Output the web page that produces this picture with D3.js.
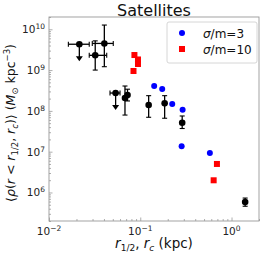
<!DOCTYPE html>
<html><head><meta charset="utf-8">
<script src="https://cdn.jsdelivr.net/npm/d3@7"></script>
<style>body{margin:0;background:#fff}svg{display:block}text{font-family:"DejaVu Sans",sans-serif}</style>
</head><body><svg id="c" width="263" height="255"></svg>
<script>
// black observed points: x, y, x error range, y error range, upper-limit flag
const obsX    = [0.0215, 0.0321, 0.0404, 0.0537, 0.068, 0.0725, 0.1236, 0.185, 0.288, 1.41];
const obsY    = [4.3e9, 2.3e9, 4.5e9, 2.74e8, 2.07e8, 2.45e8, 1.39e8, 1.53e8, 5.1e7, 5.85e5];
const obsXlo  = [0.0163, 0.0276, 0.0298, 0.0466, null, null, null, null, null, null];
const obsXhi  = [0.0276, 0.0429, 0.0506, 0.060, null, null, null, null, null, null];
const obsYlo  = [null, 1.0e9, 1.21e9, null, 7.9e7, 1.75e8, 6.97e7, 6.6e7, 3.7e7, 4.6e5];
const obsYhi  = [null, 5.2e9, 1.27e10, null, 4.07e8, 3.4e8, 2.36e8, 2.36e8, 7.5e7, 7.3e5];
const obsUL   = [true, false, false, true, false, false, false, false, false, false];
// sigma/m = 3 (blue)
const s3X = [0.142, 0.174, 0.224, 0.291, 0.284, 0.579];
const s3Y = [4.07e8, 3.44e8, 1.47e8, 1.07e8, 1.36e7, 9.3e6];
// sigma/m = 10 (red)
const s10X = [0.0863, 0.0944, 0.0944, 0.0843, 0.692, 0.637];
const s10Y = [2.34e9, 1.82e9, 1.41e9, 9.5e8, 5.0e6, 1.99e6];
const xTicks = [0.01, 0.1, 1];
const xTickExp = ["−2", "−1", "0"];
const yTicks = [1e6, 1e7, 1e8, 1e9, 1e10];
const yTickExp = ["6", "7", "8", "9", "10"];
const legendLabels = ["σ/m=3", "σ/m=10"];

const L = 49, R = 259, T = 17, B = 221;
const svg = d3.select("#c");
const x = d3.scaleLog().domain([0.01, 2]).range([L, R]);
const y = d3.scaleLog().domain([2e5, 2e10]).range([B, T]);
const axCol = "#999";

// minor ticks
const xMinor = [];
for (let d = 0.01; d < 2; d *= 10) for (let k = 2; k <= 9; k++) if (d * k <= 2) xMinor.push(d * k);
const yMinor = [];
for (let d = 1e5; d < 2e10; d *= 10) for (let k = 2; k <= 9; k++) if (d * k >= 2e5 && d * k <= 2e10) yMinor.push(d * k);

const g = svg.append("g");
const xAxis = d3.axisBottom(x).tickValues(xTicks).tickSizeInner(-3.5).tickSizeOuter(0).tickFormat("");
const yAxis = d3.axisLeft(y).tickValues(yTicks).tickSizeInner(-3.5).tickSizeOuter(0).tickFormat("");
const gx = g.append("g").attr("transform", `translate(0,${B})`).call(xAxis);
const gxm = g.append("g").attr("transform", `translate(0,${B})`).call(d3.axisBottom(x).tickValues(xMinor).tickSizeInner(-2).tickSizeOuter(0).tickFormat(""));
const gy = g.append("g").attr("transform", `translate(${L},0)`).call(yAxis);
const gym = g.append("g").attr("transform", `translate(${L},0)`).call(d3.axisLeft(y).tickValues(yMinor).tickSizeInner(-2).tickSizeOuter(0).tickFormat(""));
[gx, gxm, gy, gym].forEach(a => { a.select(".domain").remove(); a.selectAll("line").attr("stroke", axCol).attr("stroke-width", 0.8); });
svg.append("rect").attr("x", L).attr("y", T).attr("width", R - L).attr("height", B - T)
  .attr("fill", "none").attr("stroke", axCol).attr("stroke-width", 0.9);

// tick labels
xTicks.forEach((v, i) => {
  const t = svg.append("text").attr("x", x(v)).attr("y", B + 14).attr("text-anchor", "middle").attr("font-size", 10.5).attr("fill", "#222");
  t.append("tspan").text("10");
  t.append("tspan").attr("dy", -4).attr("font-size", 7.5).text(xTickExp[i]);
});
yTicks.forEach((v, i) => {
  const t = svg.append("text").attr("x", L - 4).attr("y", y(v) + 4).attr("text-anchor", "end").attr("font-size", 10.5).attr("fill", "#222");
  t.append("tspan").text("10");
  t.append("tspan").attr("dy", -4).attr("font-size", 7.5).text(yTickExp[i]);
});

// title
svg.append("text").attr("x", (L + R) / 2).attr("y", 15.5).attr("text-anchor", "middle").attr("font-size", 16).attr("fill", "#111").text("Satellites");

// x label
const xl = svg.append("text").attr("x", (L + R) / 2).attr("y", 248).attr("text-anchor", "middle").attr("font-size", 13.5).attr("fill", "#111");
xl.append("tspan").attr("font-style", "italic").text("r");
xl.append("tspan").attr("font-size", 9).attr("dy", 3).text("1/2");
xl.append("tspan").attr("dy", -3).text(", ");
xl.append("tspan").attr("font-style", "italic").text("r");
xl.append("tspan").attr("font-style", "italic").attr("font-size", 9).attr("dy", 3).text("c");
xl.append("tspan").attr("dy", -3).text(" (kpc)");

// y label
const yl = svg.append("text").attr("transform", `translate(15,123) rotate(-90)`).attr("text-anchor", "middle").attr("font-size", 12.5).attr("fill", "#111");
yl.append("tspan").text("⟨");
yl.append("tspan").attr("font-style", "italic").text("ρ");
yl.append("tspan").text("(");
yl.append("tspan").attr("font-style", "italic").text("r");
yl.append("tspan").text(" < ");
yl.append("tspan").attr("font-style", "italic").text("r");
yl.append("tspan").attr("font-size", 8.5).attr("dy", 3).text("1/2");
yl.append("tspan").attr("dy", -3).text(", ");
yl.append("tspan").attr("font-style", "italic").text("r");
yl.append("tspan").attr("font-style", "italic").attr("font-size", 8.5).attr("dy", 3).text("c");
yl.append("tspan").attr("dy", -3).text(")⟩ (");
yl.append("tspan").attr("font-style", "italic").text("M");
yl.append("tspan").attr("font-size", 8.5).attr("dy", 3).text("⊙");
yl.append("tspan").attr("dy", -3).text(" kpc");
yl.append("tspan").attr("font-size", 8.5).attr("dy", -5).text("−3");
yl.append("tspan").attr("dy", 5).text(")");

// data
const pg = svg.append("g");
const obs = obsX.map((v, i) => ({ x: v, y: obsY[i], xlo: obsXlo[i], xhi: obsXhi[i], ylo: obsYlo[i], yhi: obsYhi[i], ul: obsUL[i] }));
obs.forEach(d => {
  const cx = x(d.x), cy = y(d.y);
  if (d.xlo !== null) {
    pg.append("line").attr("x1", x(d.xlo)).attr("x2", x(d.xhi)).attr("y1", cy).attr("y2", cy).attr("stroke", "#000").attr("stroke-width", 1.3);
    [d.xlo, d.xhi].forEach(e => pg.append("line").attr("x1", x(e)).attr("x2", x(e)).attr("y1", cy - 2.5).attr("y2", cy + 2.5).attr("stroke", "#000").attr("stroke-width", 1.1));
  }
  if (d.ylo !== null) {
    pg.append("line").attr("x1", cx).attr("x2", cx).attr("y1", y(d.ylo)).attr("y2", y(d.yhi)).attr("stroke", "#000").attr("stroke-width", 1.3);
    [d.ylo, d.yhi].forEach(e => pg.append("line").attr("x1", cx - 2.5).attr("x2", cx + 2.5).attr("y1", y(e)).attr("y2", y(e)).attr("stroke", "#000").attr("stroke-width", 1.1));
  }
  if (d.ul) {
    const ey = cy + 15;
    pg.append("line").attr("x1", cx).attr("x2", cx).attr("y1", cy).attr("y2", ey).attr("stroke", "#000").attr("stroke-width", 1.3);
    pg.append("path").attr("d", `M${cx - 3.5},${ey - 3}L${cx + 3.5},${ey - 3}L${cx},${ey + 2}Z`).attr("fill", "#000");
  }
});
pg.selectAll("circle.obs").data(obs).join("circle").attr("class", "obs")
  .attr("cx", d => x(d.x)).attr("cy", d => y(d.y)).attr("r", 3.3).attr("fill", "#000");

pg.selectAll("circle.s3").data(s3X.map((v, i) => [v, s3Y[i]])).join("circle").attr("class", "s3")
  .attr("cx", d => x(d[0])).attr("cy", d => y(d[1])).attr("r", 3).attr("fill", "#0000ff");
pg.selectAll("rect.s10").data(s10X.map((v, i) => [v, s10Y[i]])).join("rect").attr("class", "s10")
  .attr("x", d => x(d[0]) - 3).attr("y", d => y(d[1]) - 3).attr("width", 6).attr("height", 6).attr("fill", "#ff0000");

// legend
const lg = svg.append("g");
lg.append("rect").attr("x", 167).attr("y", 22).attr("width", 90).attr("height", 41).attr("rx", 2)
  .attr("fill", "#fff").attr("stroke", "#ccc").attr("stroke-width", 0.8);
lg.append("circle").attr("cx", 182).attr("cy", 33).attr("r", 3).attr("fill", "#0000ff");
lg.append("rect").attr("x", 179).attr("y", 46).attr("width", 6).attr("height", 6).attr("fill", "#ff0000");
legendLabels.forEach((s, i) => {
  const t = lg.append("text").attr("x", 203).attr("y", 37.5 + i * 16).attr("font-size", 12).attr("fill", "#111");
  t.append("tspan").attr("font-style", "italic").text(s.slice(0, 1));
  t.append("tspan").text(s.slice(1));
});
</script></body></html>
